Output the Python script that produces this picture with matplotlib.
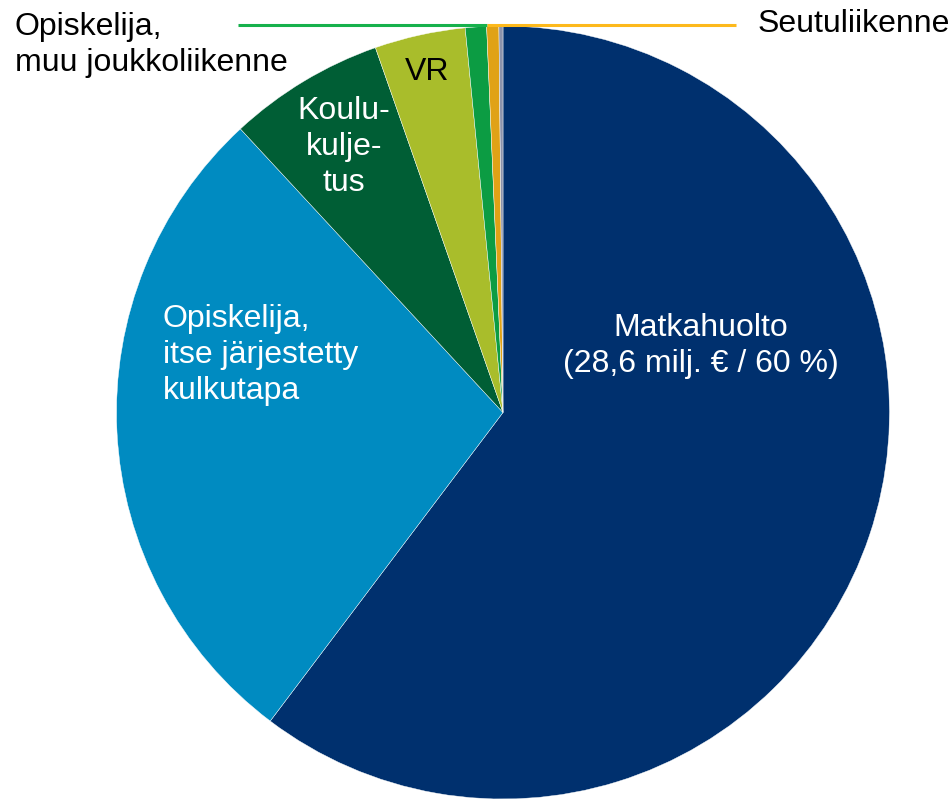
import matplotlib.pyplot as plt

# osuudet (milj. €), myötäpäivään klo 12:sta
kulkutavat = ["Matkahuolto", "Opiskelija, itse järjestetty kulkutapa", "Koulukuljetus",
              "VR", "Opiskelija, muu joukkoliikenne", "Seutuliikenne", "Muu"]
arvot = [28.6, 13.2, 3.1, 1.8, 0.42, 0.24, 0.08]
varit = ["#00306E", "#008BC1", "#005E35", "#A9BD2B", "#0C9C43", "#E0A216", "#8B93AC"]

plt.rcParams['font.family'] = ['Liberation Sans', 'DejaVu Sans']

fig = plt.figure(figsize=(9.53, 7.99), dpi=100)
ax = fig.add_axes([0, 0, 1, 1])

# y-akseli käännetty -> piirretään "vastapäivään" jotta näkyy myötäpäivään
ax.pie(arvot, colors=varit, startangle=-90, counterclock=True,
       center=(503, 412.5), radius=386.5, frame=True,
       wedgeprops=dict(edgecolor='white', linewidth=0.3))
ax.set_xlim(0, 953)
ax.set_ylim(799, 0)
ax.axis('off')

fs = 23
ls = 1.27
ax.text(701, 346, "Matkahuolto\n(28,6 milj. € / 60 %)", color='white', fontsize=fs,
        ha='center', va='center', linespacing=1.22)
ax.text(163, 355, "Opiskelija,\nitse järjestetty\nkulkutapa", color='white', fontsize=fs,
        ha='left', va='center', linespacing=ls)
ax.text(344, 147, "Koulu-\nkulje-\ntus", color='white', fontsize=fs,
        ha='center', va='center', linespacing=ls)
ax.text(427, 72, "VR", color='black', fontsize=fs, ha='center', va='center')

# selitteet viivoilla
ax.plot([238, 487], [24.5, 24.5], color='#17B14C', lw=2.2, solid_capstyle='butt')
ax.plot([487, 736], [25, 25], color='#FDB91C', lw=2.2, solid_capstyle='butt')
ax.text(15, 45, "Opiskelija,\nmuu joukkoliikenne", color='black', fontsize=fs,
        ha='left', va='center', linespacing=ls)
ax.text(758, 24, "Seutuliikenne", color='black', fontsize=fs, ha='left', va='center')

fig.savefig("out.png", dpi=100)
